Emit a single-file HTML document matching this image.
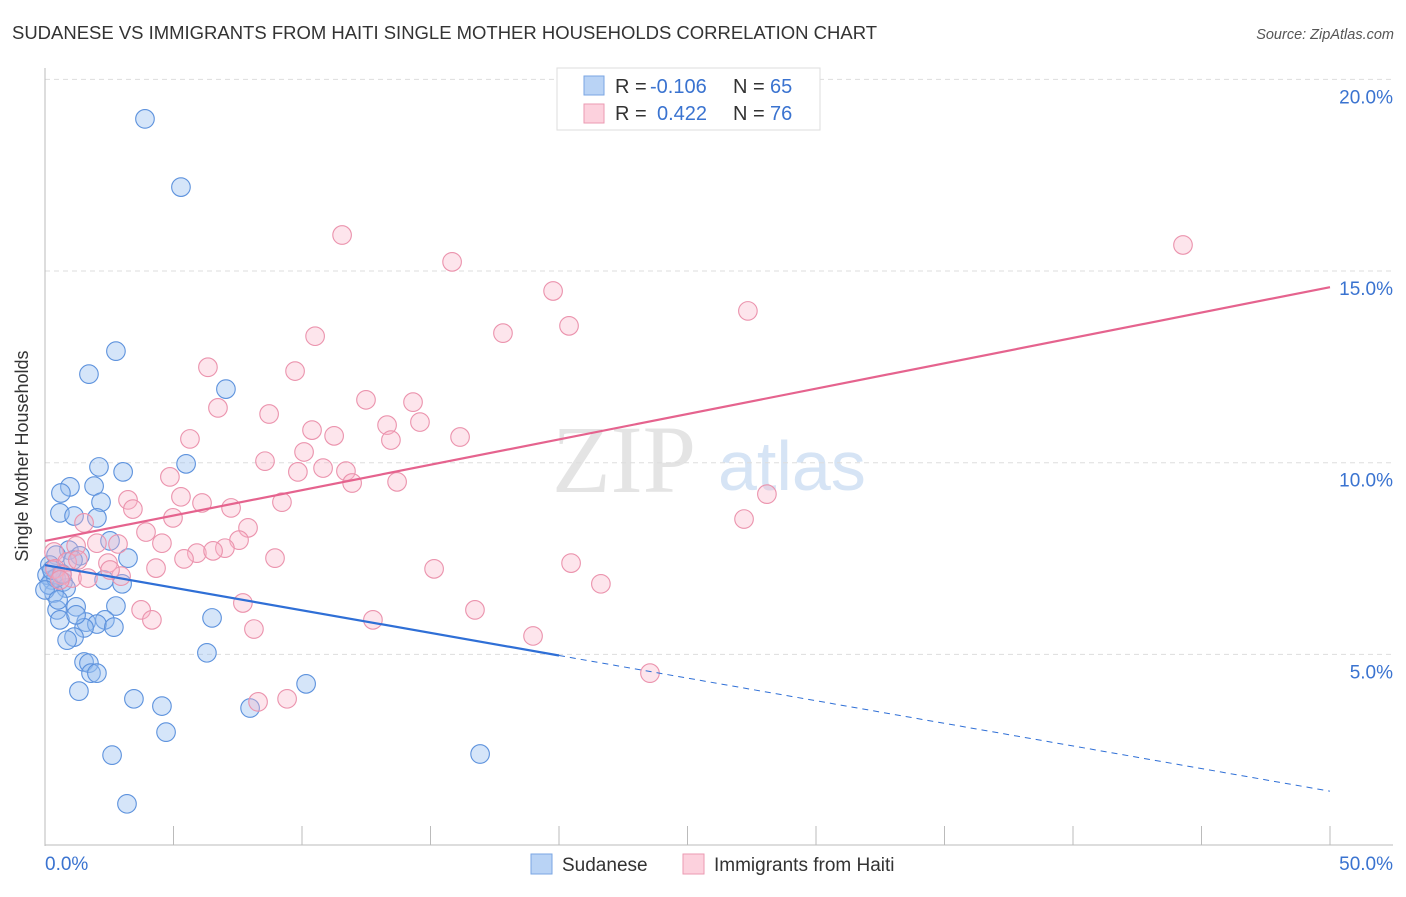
<!DOCTYPE html>
<html><head><meta charset="utf-8"><style>
body{margin:0;background:#fff;font-family:"Liberation Sans",sans-serif}
</style></head><body>
<svg width="1406" height="892" xmlns="http://www.w3.org/2000/svg">
<text x="12" y="39" font-size="18" fill="#333" textLength="865" lengthAdjust="spacingAndGlyphs">SUDANESE VS IMMIGRANTS FROM HAITI SINGLE MOTHER HOUSEHOLDS CORRELATION CHART</text>
<text x="1394" y="39" font-size="14.5" fill="#555" font-style="italic" text-anchor="end">Source: ZipAtlas.com</text>
<g>
<text x="552" y="492" font-size="96" font-family="Liberation Serif,serif" fill="#e4e4e4">ZIP</text>
<text x="718" y="490" font-size="70" fill="#d6e4f5">atlas</text>
</g>
<g id="grid"></g>
<text x="28" y="456" font-size="18" fill="#333" text-anchor="middle" transform="rotate(-90 28 456)">Single Mother Households</text>
<g id="ticks"></g>
<g id="pts"></g>
<g id="trend"></g>
<g>
<rect x="557" y="68" width="263" height="62" fill="#fff" stroke="#ddd"/>
<rect x="584" y="76" width="20" height="19" fill="#b9d3f5" stroke="#7aa6e3"/>
<rect x="584" y="104" width="20" height="19" fill="#fcd1dd" stroke="#eb9ab2"/>
<text x="615" y="93" font-size="20" fill="#333">R = <tspan x="650" fill="#3a73d0">-0.106</tspan><tspan x="733">N = </tspan><tspan x="770" fill="#3a73d0">65</tspan></text>
<text x="615" y="120" font-size="20" fill="#333">R = <tspan x="657" fill="#3a73d0">0.422</tspan><tspan x="733">N = </tspan><tspan x="770" fill="#3a73d0">76</tspan></text>
</g>
<g>
<rect x="531" y="854" width="21" height="20" fill="#b9d3f5" stroke="#7aa6e3"/>
<text x="562" y="871" font-size="19" fill="#333">Sudanese</text>
<rect x="683" y="854" width="21" height="20" fill="#fcd1dd" stroke="#eb9ab2"/>
<text x="714" y="871" font-size="19" fill="#333">Immigrants from Haiti</text>
</g>
</svg>
<script>
const yTicks=[5,10,15,20];
const xTickLabels=["0.0%","50.0%"];
const blueX=[3.89,5.29,2.76,1.71,7.04,5.49,2.10,3.04,0.97,1.91,0.62,2.18,0.58,1.13,2.02,2.53,0.93,1.36,0.43,3.23,1.09,0.19,0.27,0.70,2.30,3.00,0.82,0.35,0.47,2.76,1.21,6.50,0.58,2.33,1.60,2.02,2.68,1.52,1.13,0.86,6.30,1.52,1.71,1.79,2.02,10.16,1.32,3.46,4.55,7.98,4.71,2.61,16.93,3.19,0.08,0.16,0.43,0.0,0.66,0.51,1.21,0.27];
const blueY=[18.97,17.19,12.91,12.31,11.92,9.97,9.89,9.76,9.37,9.39,9.21,8.97,8.69,8.61,8.56,7.96,7.72,7.57,7.59,7.51,7.46,7.33,6.94,6.89,6.94,6.84,6.73,6.60,6.16,6.26,6.24,5.95,5.90,5.90,5.84,5.79,5.71,5.69,5.45,5.37,5.04,4.80,4.77,4.51,4.51,4.23,4.04,3.84,3.65,3.60,2.97,2.37,2.40,1.10,7.07,6.81,6.99,6.68,7.10,6.42,6.03,7.2];
const pinkX=[11.56,15.84,44.28,19.77,27.35,20.39,17.82,10.51,6.34,9.73,12.49,14.32,6.73,8.72,14.59,13.31,10.39,11.25,5.64,16.15,13.46,10.08,8.56,9.84,10.82,11.71,4.86,13.70,11.95,5.29,3.23,28.09,6.11,9.22,3.42,7.24,4.98,27.20,1.52,7.90,3.93,2.02,2.84,7.55,4.55,7.00,1.21,0.35,5.91,6.54,5.41,8.95,2.45,0.86,4.32,2.96,1.05,1.67,0.39,0.66,15.14,20.47,21.63,7.70,3.74,16.73,4.16,12.76,8.13,18.99,23.54,8.29,9.42,0.58,2.53,1.28];
const pinkY=[15.94,15.24,15.68,14.48,13.96,13.57,13.38,13.30,12.49,12.39,11.64,11.58,11.43,11.27,11.06,10.98,10.85,10.70,10.62,10.67,10.59,10.28,10.04,9.76,9.86,9.78,9.63,9.50,9.47,9.11,9.03,9.18,8.95,8.97,8.79,8.82,8.56,8.53,8.43,8.30,8.19,7.90,7.88,7.98,7.90,7.77,7.83,7.67,7.64,7.70,7.49,7.51,7.38,7.41,7.25,7.04,6.99,6.99,7.23,7.07,7.23,7.38,6.84,6.34,6.16,6.16,5.90,5.90,5.66,5.48,4.51,3.76,3.84,6.94,7.20,7.46];
const blueTrend=[7.33,1.43];
const pinkTrend=[7.96,14.58];
const blueSolidEnd=20;
const NS="http://www.w3.org/2000/svg";
const X=v=>45+v*25.7, Y=v=>846-v*38.33;
function mk(t,a,p){const e=document.createElementNS(NS,t);for(const k in a)e.setAttribute(k,a[k]);p.appendChild(e);return e;}
const grid=document.getElementById('grid');
yTicks.forEach(t=>{
 const l=mk('line',{x1:45,x2:1393,y1:Y(t),y2:Y(t),stroke:'#ddd','stroke-dasharray':'5,4'},grid);
 
 
 const tx=mk('text',{x:1393,y:Y(t)+24,'font-size':19,fill:'#3a73d0','text-anchor':'end'},grid);
 tx.textContent=t.toFixed(1)+'%';
 
 
});
const tk=document.getElementById('ticks');
mk('line',{x1:45,x2:45,y1:68,y2:846,stroke:'#bbb'},tk);
const ax=mk('line',{x1:45,x2:1393,y1:845,y2:845,stroke:'#bbb'},tk);


for(let i=1;i<=10;i++){mk('line',{x1:X(i*5),x2:X(i*5),y1:826,y2:845,stroke:'#bbb'},tk);}
const l0=mk('text',{x:45,y:870,'font-size':19,fill:'#3a73d0'},tk);l0.textContent=xTickLabels[0];


const l1=mk('text',{x:1393,y:870,'font-size':19,fill:'#3a73d0','text-anchor':'end'},tk);l1.textContent=xTickLabels[1];


const pts=document.getElementById('pts');
blueX.forEach((x,i)=>{const c=mk('circle',{cx:X(x),cy:Y(blueY[i]),r:9.3,fill:'rgba(150,190,240,0.4)',stroke:'#5d92dd','stroke-width':1.1},pts);
 
 });
pinkX.forEach((x,i)=>{const c=mk('circle',{cx:X(x),cy:Y(pinkY[i]),r:9.3,fill:'rgba(248,180,200,0.35)',stroke:'#eb93ad','stroke-width':1.1},pts);
 
 });
const tr=document.getElementById('trend');
const bAt=x=>blueTrend[0]+(blueTrend[1]-blueTrend[0])*x/50;
const b1=mk('line',{x1:X(0),y1:Y(bAt(0)),x2:X(blueSolidEnd),y2:Y(bAt(blueSolidEnd)),stroke:'#2f6fd6','stroke-width':2.2},tr);


const b2=mk('line',{x1:X(blueSolidEnd),y1:Y(bAt(blueSolidEnd)),x2:X(50),y2:Y(bAt(50)),stroke:'#2f6fd6','stroke-width':1,'stroke-dasharray':'6,5'},tr);


const p1=mk('line',{x1:X(0),y1:Y(pinkTrend[0]),x2:X(50),y2:Y(pinkTrend[1]),stroke:'#e5638e','stroke-width':2.2},tr);


</script>
</body></html>
